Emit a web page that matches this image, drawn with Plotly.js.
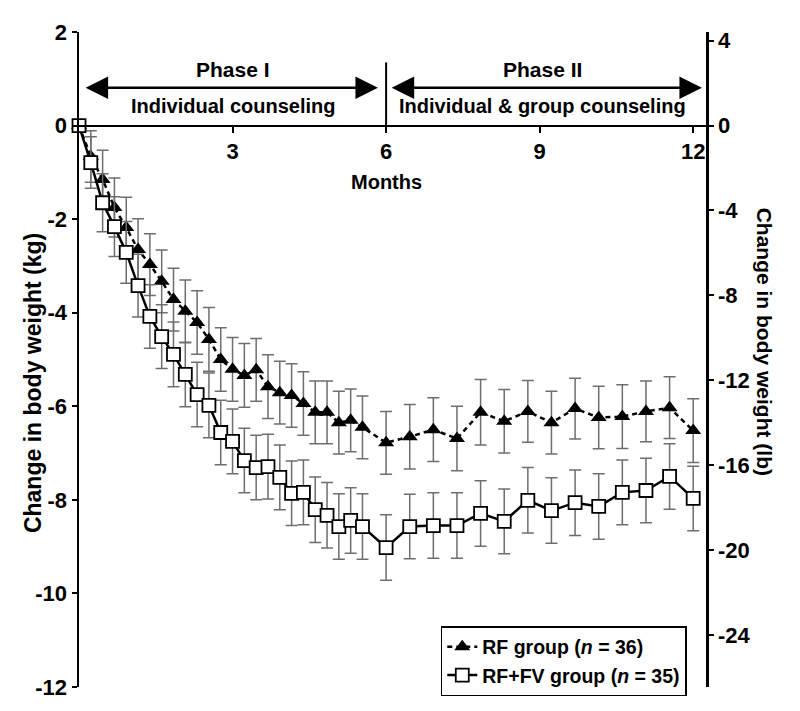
<!DOCTYPE html>
<html>
<head>
<meta charset="utf-8">
<script src="https://cdn.plot.ly/plotly-3.0.1.min.js"></script>
<style>html,body{margin:0;padding:0;background:#fff;}#chart{width:800px;height:711px;}</style>
</head>
<body>
<div id="chart"></div>
<script>
// Weeks since start of study
const weeks = [0,1,2,3,4,5,6,7,8,9,10,11,12,13,14,15,16,17,18,19,20,21,22,23,24,26,28,30,32,34,36,38,40,42,44,46,48,50,52];
// RF group mean change (kg) and SE
const rfMean = [0,-0.66,-1.15,-1.75,-2.18,-2.65,-2.97,-3.33,-3.72,-3.97,-4.21,-4.57,-5.00,-5.21,-5.34,-5.22,-5.58,-5.71,-5.77,-5.94,-6.13,-6.13,-6.35,-6.30,-6.45,-6.78,-6.65,-6.50,-6.69,-6.13,-6.32,-6.11,-6.35,-6.05,-6.24,-6.22,-6.11,-6.03,-6.52];
const rfErr = [0.05,0.55,0.62,0.63,0.65,0.66,0.66,0.67,0.67,0.67,0.68,0.68,0.68,0.68,0.68,0.67,0.68,0.67,0.68,0.68,0.67,0.67,0.67,0.67,0.67,0.67,0.69,0.68,0.69,0.70,0.68,0.66,0.67,0.65,0.67,0.68,0.65,0.66,0.68];
// RF+FV group mean change (kg) and SE
const fvMean = [0,-0.79,-1.65,-2.16,-2.71,-3.42,-4.08,-4.51,-4.89,-5.32,-5.75,-5.98,-6.56,-6.75,-7.16,-7.31,-7.29,-7.52,-7.86,-7.84,-8.21,-8.33,-8.57,-8.44,-8.57,-9.02,-8.57,-8.55,-8.55,-8.29,-8.46,-8.01,-8.23,-8.06,-8.14,-7.84,-7.80,-7.50,-7.97];
const fvErr = [0.05,0.55,0.62,0.64,0.66,0.67,0.68,0.68,0.69,0.69,0.69,0.69,0.69,0.69,0.69,0.69,0.69,0.69,0.69,0.69,0.70,0.70,0.70,0.70,0.70,0.70,0.69,0.70,0.70,0.70,0.69,0.70,0.70,0.70,0.70,0.69,0.69,0.70,0.69];
// Axis ticks
const xTicks = [3,6,9,12];
const kgTicks = [2,0,-2,-4,-6,-8,-10,-12];
const lbTicks = [4,0,-4,-8,-12,-16,-20,-24];
const labels = {rf: 'RF group (<i>n</i> = 36)', fv: 'RF+FV group (<i>n</i> = 35)'};

const months = weeks.map(w => w * 12 / 52);
const LB = 2.20462;
const FONT = 'Liberation Sans Narrow, Arial Narrow, Liberation Sans, Arial, sans-serif';
const f = (s) => ({family: FONT, size: s, color: '#000', weight: 700});

const traces = [
  {
    x: months, y: rfMean, name: labels.rf, type: 'scatter', mode: 'lines+markers',
    line: {color: '#000', width: 2.5, dash: '5px,4px'},
    marker: {symbol: 'triangle-up', size: 14, color: '#000'},
    error_y: {type: 'data', array: rfErr, visible: true, color: '#6e6e6e', thickness: 1.5, width: 6},
    cliponaxis: false
  },
  {
    x: months, y: fvMean, name: labels.fv, type: 'scatter', mode: 'lines+markers',
    line: {color: '#000', width: 2.5},
    marker: {symbol: 'square', size: 13, color: '#fff', line: {color: '#000', width: 1.8}},
    error_y: {type: 'data', array: fvErr, visible: true, color: '#6e6e6e', thickness: 1.5, width: 6},
    cliponaxis: false
  },
  {x: [0], y: [0], yaxis: 'y2', mode: 'none', type: 'scatter', showlegend: false, hoverinfo: 'skip'}
];

const arrowBase = {
  text: '', showarrow: true, xref: 'x', yref: 'y', axref: 'x', ayref: 'y',
  arrowside: 'end+start', arrowhead: 2, startarrowhead: 2, arrowsize: 1.8, startarrowsize: 1.8,
  arrowwidth: 2.5, arrowcolor: '#000', standoff: 0, startstandoff: 0
};

const layout = {
  width: 800, height: 711,
  margin: {l: 79, r: 94, t: 32, b: 24},
  paper_bgcolor: '#fff', plot_bgcolor: '#fff',
  showlegend: true,
  legend: {
    x: 0.577, y: 0.093, xanchor: 'left', yanchor: 'top',
    bgcolor: '#fff', bordercolor: '#000', borderwidth: 1.5,
    font: f(19.5), tracegroupgap: 0, itemwidth: 30
  },
  xaxis: {
    range: [0, 12.25], anchor: 'free', position: 12/14,
    showline: true, linecolor: '#000', linewidth: 2.5,
    ticks: 'outside', ticklen: 6, tickwidth: 2, tickcolor: '#000',
    tickvals: xTicks, ticktext: xTicks.map(String), tickfont: f(22),
    showgrid: false, zeroline: false
  },
  yaxis: {
    range: [-12, 2], showline: true, linecolor: '#000', linewidth: 2.5,
    ticks: 'outside', ticklen: 5, tickwidth: 2, tickcolor: '#000',
    tickvals: kgTicks, ticktext: kgTicks.map(String), tickfont: f(22),
    showgrid: false, zeroline: false
  },
  yaxis2: {
    overlaying: 'y', side: 'right', range: [-12 * LB, 2 * LB],
    showline: true, linecolor: '#000', linewidth: 2.5,
    ticks: 'outside', ticklen: 5, tickwidth: 2, tickcolor: '#000',
    tickvals: lbTicks, ticktext: lbTicks.map(String), tickfont: f(22),
    showgrid: false, zeroline: false
  },
  shapes: [
    {type: 'line', xref: 'x', yref: 'y', x0: 6, x1: 6, y0: 0, y1: 1.35, line: {color: '#000', width: 2}}
  ],
  annotations: [
    Object.assign({}, arrowBase, {x: 5.84, y: 0.81, ax: 0.1, ay: 0.81}),
    Object.assign({}, arrowBase, {x: 12.17, y: 0.81, ax: 6.08, ay: 0.81}),
    {text: 'Phase I', x: 3, y: 1.2, xref: 'x', yref: 'y', showarrow: false, font: f(21)},
    {text: 'Individual counseling', x: 3, y: 0.41, xref: 'x', yref: 'y', showarrow: false, font: f(20)},
    {text: 'Phase II', x: 9.05, y: 1.2, xref: 'x', yref: 'y', showarrow: false, font: f(21)},
    {text: 'Individual &amp; group counseling', x: 9.05, y: 0.41, xref: 'x', yref: 'y', showarrow: false, font: f(20)},
    {text: 'Months', x: 6, y: -1.2, xref: 'x', yref: 'y', showarrow: false, font: f(20)},
    {text: 'Change in body weight (kg)', x: 0, xshift: -61, y: 0.464, xref: 'paper', yref: 'paper',
     textangle: -90, showarrow: false, font: f(23)},
    {text: 'Change in body weight (lb)', x: 1, xshift: 72, y: 0.528, xref: 'paper', yref: 'paper',
     textangle: 90, showarrow: false, font: f(21)}
  ]
};

Plotly.newPlot('chart', traces, layout, {displayModeBar: false, staticPlot: true});
</script>
</body>
</html>
